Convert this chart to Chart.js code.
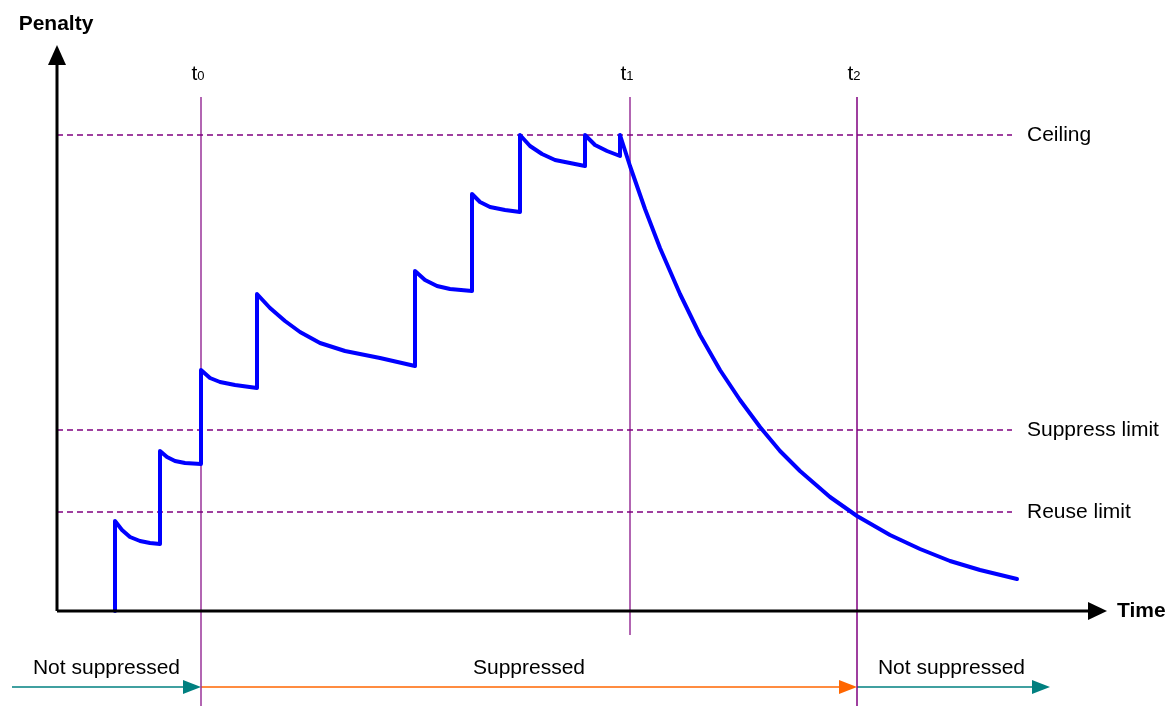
<!DOCTYPE html>
<html>
<head>
<meta charset="utf-8">
<script src="https://cdn.jsdelivr.net/npm/chart.js@4.4.0/dist/chart.umd.min.js"></script>
<style>
  html, body { margin: 0; padding: 0; background: #fff; }
  #wrap { width: 1169px; height: 706px; }
</style>
</head>
<body>
<div id="wrap"><canvas id="myChart"></canvas></div>
<script>
// penalty over time (time 0 = y axis, penalty 0 = time axis)
var penaltyTime = [58, 58, 65, 73, 83, 93, 103,
  103, 110, 118, 128, 144,
  144, 153, 163, 178, 200,
  200, 213, 228, 243, 263, 288, 323, 358,
  358, 368, 380, 393, 415,
  415, 423, 433, 448, 463,
  463, 473, 485, 498, 513, 528,
  528, 538, 550, 563,
  563, 573, 588, 603, 623, 643, 663, 683, 703, 723, 743, 773, 800, 833, 863, 893, 923, 960];
var penaltyValue = [0, 90, 81, 74, 70, 68, 67,
  160, 154, 150, 148, 147,
  241, 233, 229, 226, 223,
  317, 303, 290, 279, 268, 260, 253, 245,
  340, 331, 325, 322, 320,
  417, 409, 404, 401, 399,
  476, 465, 457, 451, 448, 445,
  476, 466, 460, 455,
  476, 445, 402, 363, 317, 276, 241, 211, 184, 160, 140, 114, 95, 76, 62, 50, 41, 32];

var levelNames = ['Ceiling', 'Suppress limit', 'Reuse limit'];
var levelValues = [476, 181, 99];

var markNames = ['0', '1', '2'];
var markTimes = [144, 573, 800];

var stateNames = ['Not suppressed', 'Suppressed', 'Not suppressed'];
var stateStart = [-45, 144, 800];
var stateEnd = [144, 800, 993];
var stateColors = ['#008080', '#ff6600', '#008080'];

var FONT = '"Liberation Sans", Arial, sans-serif';
var purple = '#800080';
var stateRow = -76;

var datasets = [];

// axes
datasets.push({ data: [{x: 0, y: 0}, {x: 1033, y: 0}], borderColor: '#000', borderWidth: 3, clip: false });
datasets.push({ data: [{x: 0, y: 0}, {x: 0, y: 548}], borderColor: '#000', borderWidth: 3, clip: false });

// penalty curve
var curve = [];
for (var i = 0; i < penaltyTime.length; i++) {
  curve.push({x: penaltyTime[i], y: penaltyValue[i]});
}
datasets.push({ data: curve, borderColor: '#0000ff', borderWidth: 4, borderJoinStyle: 'round', borderCapStyle: 'round', clip: false });

// limits
for (var i = 0; i < levelValues.length; i++) {
  datasets.push({ data: [{x: 0, y: levelValues[i]}, {x: 955, y: levelValues[i]}],
    borderColor: purple, borderWidth: 1.3, borderDash: [6, 4], clip: false });
}

// t0 t1 t2
for (var i = 0; i < markTimes.length; i++) {
  var bottom = (i == 1) ? -24 : -95;
  datasets.push({ data: [{x: markTimes[i], y: 514}, {x: markTimes[i], y: bottom}],
    borderColor: (i == 2) ? purple : '#993399', borderWidth: 1.5, clip: false });
}

// state arrows
for (var i = 0; i < stateNames.length; i++) {
  datasets.push({ data: [{x: stateStart[i], y: stateRow}, {x: stateEnd[i] - 10, y: stateRow}],
    borderColor: stateColors[i], borderWidth: 1.5, clip: false });
}

function head(ctx, chart, x, y, dir, len, half, color) {
  var px = chart.scales.x.getPixelForValue(x);
  var py = chart.scales.y.getPixelForValue(y);
  ctx.fillStyle = color;
  ctx.beginPath();
  if (dir == 'up') {
    ctx.moveTo(px, py);
    ctx.lineTo(px - half, py + len);
    ctx.lineTo(px + half, py + len);
  } else {
    ctx.moveTo(px, py);
    ctx.lineTo(px - len, py - half);
    ctx.lineTo(px - len, py + half);
  }
  ctx.closePath();
  ctx.fill();
}

function label(ctx, chart, text, x, y, align, font) {
  ctx.font = font;
  ctx.fillStyle = '#000';
  ctx.textAlign = align;
  ctx.textBaseline = 'middle';
  ctx.fillText(text, chart.scales.x.getPixelForValue(x), chart.scales.y.getPixelForValue(y));
}

var decorations = {
  id: 'decorations',
  afterDatasetsDraw: function(chart) {
    var ctx = chart.ctx;
    ctx.save();
    head(ctx, chart, 0, 566, 'up', 20, 9, '#000');
    head(ctx, chart, 1050, 0, 'right', 19, 9, '#000');
    for (var i = 0; i < stateNames.length; i++) {
      head(ctx, chart, stateEnd[i], stateRow, 'right', 18, 7, stateColors[i]);
      label(ctx, chart, stateNames[i], (stateStart[i] + stateEnd[i]) / 2 + (i == 2 ? -2 : 0), -57, 'center', '21px ' + FONT);
    }
    label(ctx, chart, 'Penalty', -1, 587, 'center', 'bold 21px ' + FONT);
    label(ctx, chart, 'Time', 1060, 0, 'left', 'bold 21px ' + FONT);
    for (var i = 0; i < levelValues.length; i++) {
      label(ctx, chart, levelNames[i], 970, levelValues[i], 'left', '21px ' + FONT);
    }
    for (var i = 0; i < markTimes.length; i++) {
      var px = chart.scales.x.getPixelForValue(markTimes[i]);
      var py = chart.scales.y.getPixelForValue(536);
      ctx.font = '21px ' + FONT;
      var tw = ctx.measureText('t').width;
      ctx.font = '13px ' + FONT;
      var sw = ctx.measureText(markNames[i]).width;
      var left = px - 3 - (tw + sw) / 2;
      ctx.fillStyle = '#000';
      ctx.textAlign = 'left';
      ctx.textBaseline = 'alphabetic';
      ctx.font = '21px ' + FONT;
      ctx.fillText('t', left, py + 5);
      ctx.font = '13px ' + FONT;
      ctx.fillText(markNames[i], left + tw, py + 5);
    }
    ctx.restore();
  }
};

new Chart(document.getElementById('myChart').getContext('2d'), {
  type: 'scatter',
  data: { datasets: datasets },
  options: {
    responsive: true,
    maintainAspectRatio: false,
    animation: false,
    showLine: true,
    layout: { padding: 0 },
    elements: { point: { radius: 0, hoverRadius: 0 }, line: { tension: 0, fill: false } },
    plugins: { legend: { display: false }, tooltip: { enabled: false } },
    events: [],
    scales: {
      x: { type: 'linear', min: -57, max: 1112, display: false },
      y: { type: 'linear', min: -95, max: 611, display: false }
    }
  },
  plugins: [decorations]
});
</script>
</body>
</html>
